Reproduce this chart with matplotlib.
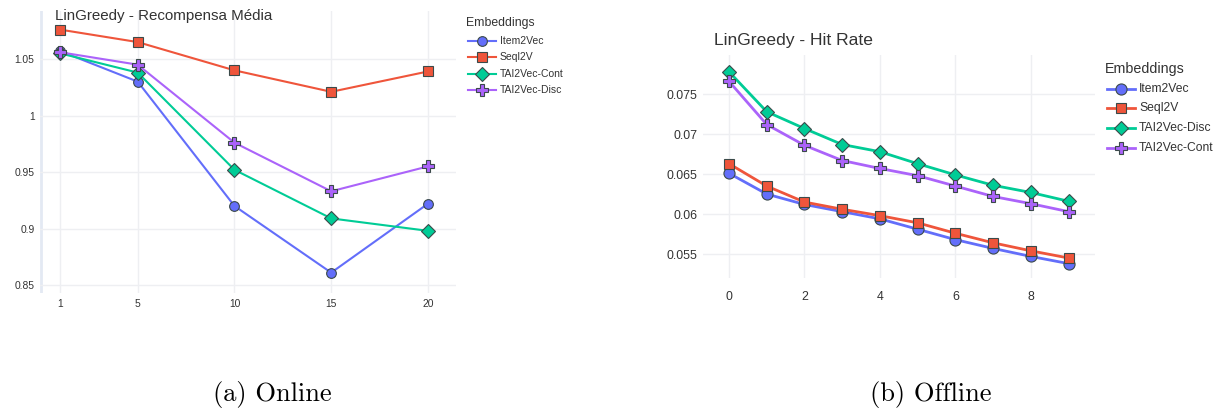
import matplotlib.pyplot as plt
from matplotlib.lines import Line2D

# ---- online: average reward per number of recommendations ----
online_x = [1, 5, 10, 15, 20]
online_item2vec = [1.057, 1.030, 0.920, 0.861, 0.922]
online_seql2v = [1.076, 1.065, 1.040, 1.021, 1.039]
online_tai_cont = [1.055, 1.038, 0.952, 0.909, 0.898]
online_tai_disc = [1.056, 1.045, 0.976, 0.933, 0.955]
online_yticks = [0.85, 0.9, 0.95, 1.0, 1.05]
online_yticklabels = ['0.85', '0.9', '0.95', '1', '1.05']

# ---- offline: hit rate per step ----
offline_x = list(range(10))
offline_item2vec = [0.0651, 0.0625, 0.0612, 0.0603, 0.0594, 0.0581, 0.0568, 0.0557, 0.0547, 0.0538]
offline_seql2v = [0.0663, 0.0635, 0.0615, 0.0606, 0.0598, 0.0589, 0.0576, 0.0564, 0.0554, 0.0545]
offline_tai_disc = [0.0778, 0.0728, 0.0707, 0.0687, 0.0678, 0.0663, 0.0649, 0.0636, 0.0627, 0.0616]
offline_tai_cont = [0.0766, 0.0712, 0.0686, 0.0667, 0.0657, 0.0648, 0.0635, 0.0622, 0.0613, 0.0603]
offline_yticks = [0.055, 0.06, 0.065, 0.07, 0.075]
offline_yticklabels = ['0.055', '0.06', '0.065', '0.07', '0.075']

BLUE, RED, GREEN, PURPLE = '#636EFA', '#EF553B', '#00CC96', '#AB63FA'
EDGE = '#3b4a4a'
GRID = '#eeeff2'
TXT = '#333333'

plt.rcParams['font.family'] = 'Liberation Sans'

fig = plt.figure(figsize=(12.27, 4.12), dpi=100)


def px(x, y):
    # pixel position -> figure fraction
    return x / 1227, 1 - y / 412


def style_axes(ax, fs):
    for s in ax.spines.values():
        s.set_visible(False)
    ax.grid(True, color=GRID, linewidth=1)
    ax.set_axisbelow(True)
    ax.tick_params(length=0, labelsize=fs, colors=TXT, pad=4)


def draw_legend(series, x0, y_title, y_items, fs_title, fs_item, ms, lw):
    fig.text(*px(x0, y_title), 'Embeddings', fontsize=fs_title, color=TXT,
             ha='left', va='center')
    for (label, color, marker, msc), y in zip(series, y_items):
        xa, ya = px(x0 + 2, y)
        xb, _ = px(x0 + 16, y)
        xc, _ = px(x0 + 30, y)
        fig.add_artist(Line2D([xa, xb, xc], [ya, ya, ya], transform=fig.transFigure,
                              color=color, lw=lw, marker=marker, markevery=[1],
                              ms=ms * msc, mfc=color, mec=EDGE, mew=0.8))
        fig.text(*px(x0 + 34, y), label, fontsize=fs_item, color=TXT,
                 ha='left', va='center')


# ---------------- left chart ----------------
ax1 = fig.add_axes([40 / 1227, 1 - 293 / 412, 416 / 1227, 282 / 412])
style_axes(ax1, 7.4)
ax1.axvline(0, color='#e3e9f3', lw=2, zorder=0)
left_series = [
    ('Item2Vec', online_item2vec, BLUE, 'o', 1.0),
    ('Seql2V', online_seql2v, RED, 's', 0.95),
    ('TAI2Vec-Cont', online_tai_cont, GREEN, 'D', 1.0),
    ('TAI2Vec-Disc', online_tai_disc, PURPLE, 'P', 1.15),
]
ms1 = 7
for label, vals, color, marker, msc in left_series:
    ax1.plot(online_x, vals, color=color, lw=1.5, marker=marker, ms=ms1 * msc,
             mfc=color, mec=EDGE, mew=0.8)
ax1.set_xlim(-0.05, 21.45)
ax1.set_ylim(0.843, 1.0925)
ax1.set_xticks(online_x)
ax1.set_yticks(online_yticks)
ax1.set_yticklabels(online_yticklabels)
fig.text(*px(55, 16), 'LinGreedy - Recompensa Média', fontsize=10.9, color=TXT,
         ha='left', va='center')
draw_legend([(l, c, m, s) for l, _, c, m, s in left_series], 466, 23,
            [41, 57, 74, 90], 8.8, 7.45, ms1, 1.5)

# ---------------- right chart ----------------
ax2 = fig.add_axes([703 / 1227, 1 - 278 / 412, 392 / 1227, 223 / 412])
style_axes(ax2, 8.9)
ax2.axvline(0, color='white', lw=2, zorder=0.5)
right_series = [
    ('Item2Vec', offline_item2vec, BLUE, 'o', 1.0),
    ('Seql2V', offline_seql2v, RED, 's', 0.95),
    ('TAI2Vec-Disc', offline_tai_disc, GREEN, 'D', 0.95),
    ('TAI2Vec-Cont', offline_tai_cont, PURPLE, 'P', 1.1),
]
ms2 = 8
for label, vals, color, marker, msc in right_series:
    ax2.plot(offline_x, vals, color=color, lw=2, marker=marker, ms=ms2 * msc,
             mfc=color, mec=EDGE, mew=0.8)
ax2.set_xlim(-0.69, 9.70)
ax2.set_ylim(0.0520, 0.0799)
ax2.set_xticks([0, 2, 4, 6, 8])
ax2.set_yticks(offline_yticks)
ax2.set_yticklabels(offline_yticklabels)
ax2.tick_params(axis='x', pad=9)
fig.text(*px(714, 41), 'LinGreedy - Hit Rate', fontsize=12.6, color=TXT,
         ha='left', va='center')
draw_legend([(l, c, m, s) for l, _, c, m, s in right_series], 1105, 69,
            [89, 108, 128, 148], 10.3, 8.7, ms2, 2)

# captions
fig.text(*px(272, 395), '(a) Online', fontsize=19, family='cmr10',
         ha='center', va='center')
fig.text(*px(931, 395), '(b) Offline', fontsize=19, family='cmr10',
         ha='center', va='center')

fig.savefig('out.png', dpi=100)
